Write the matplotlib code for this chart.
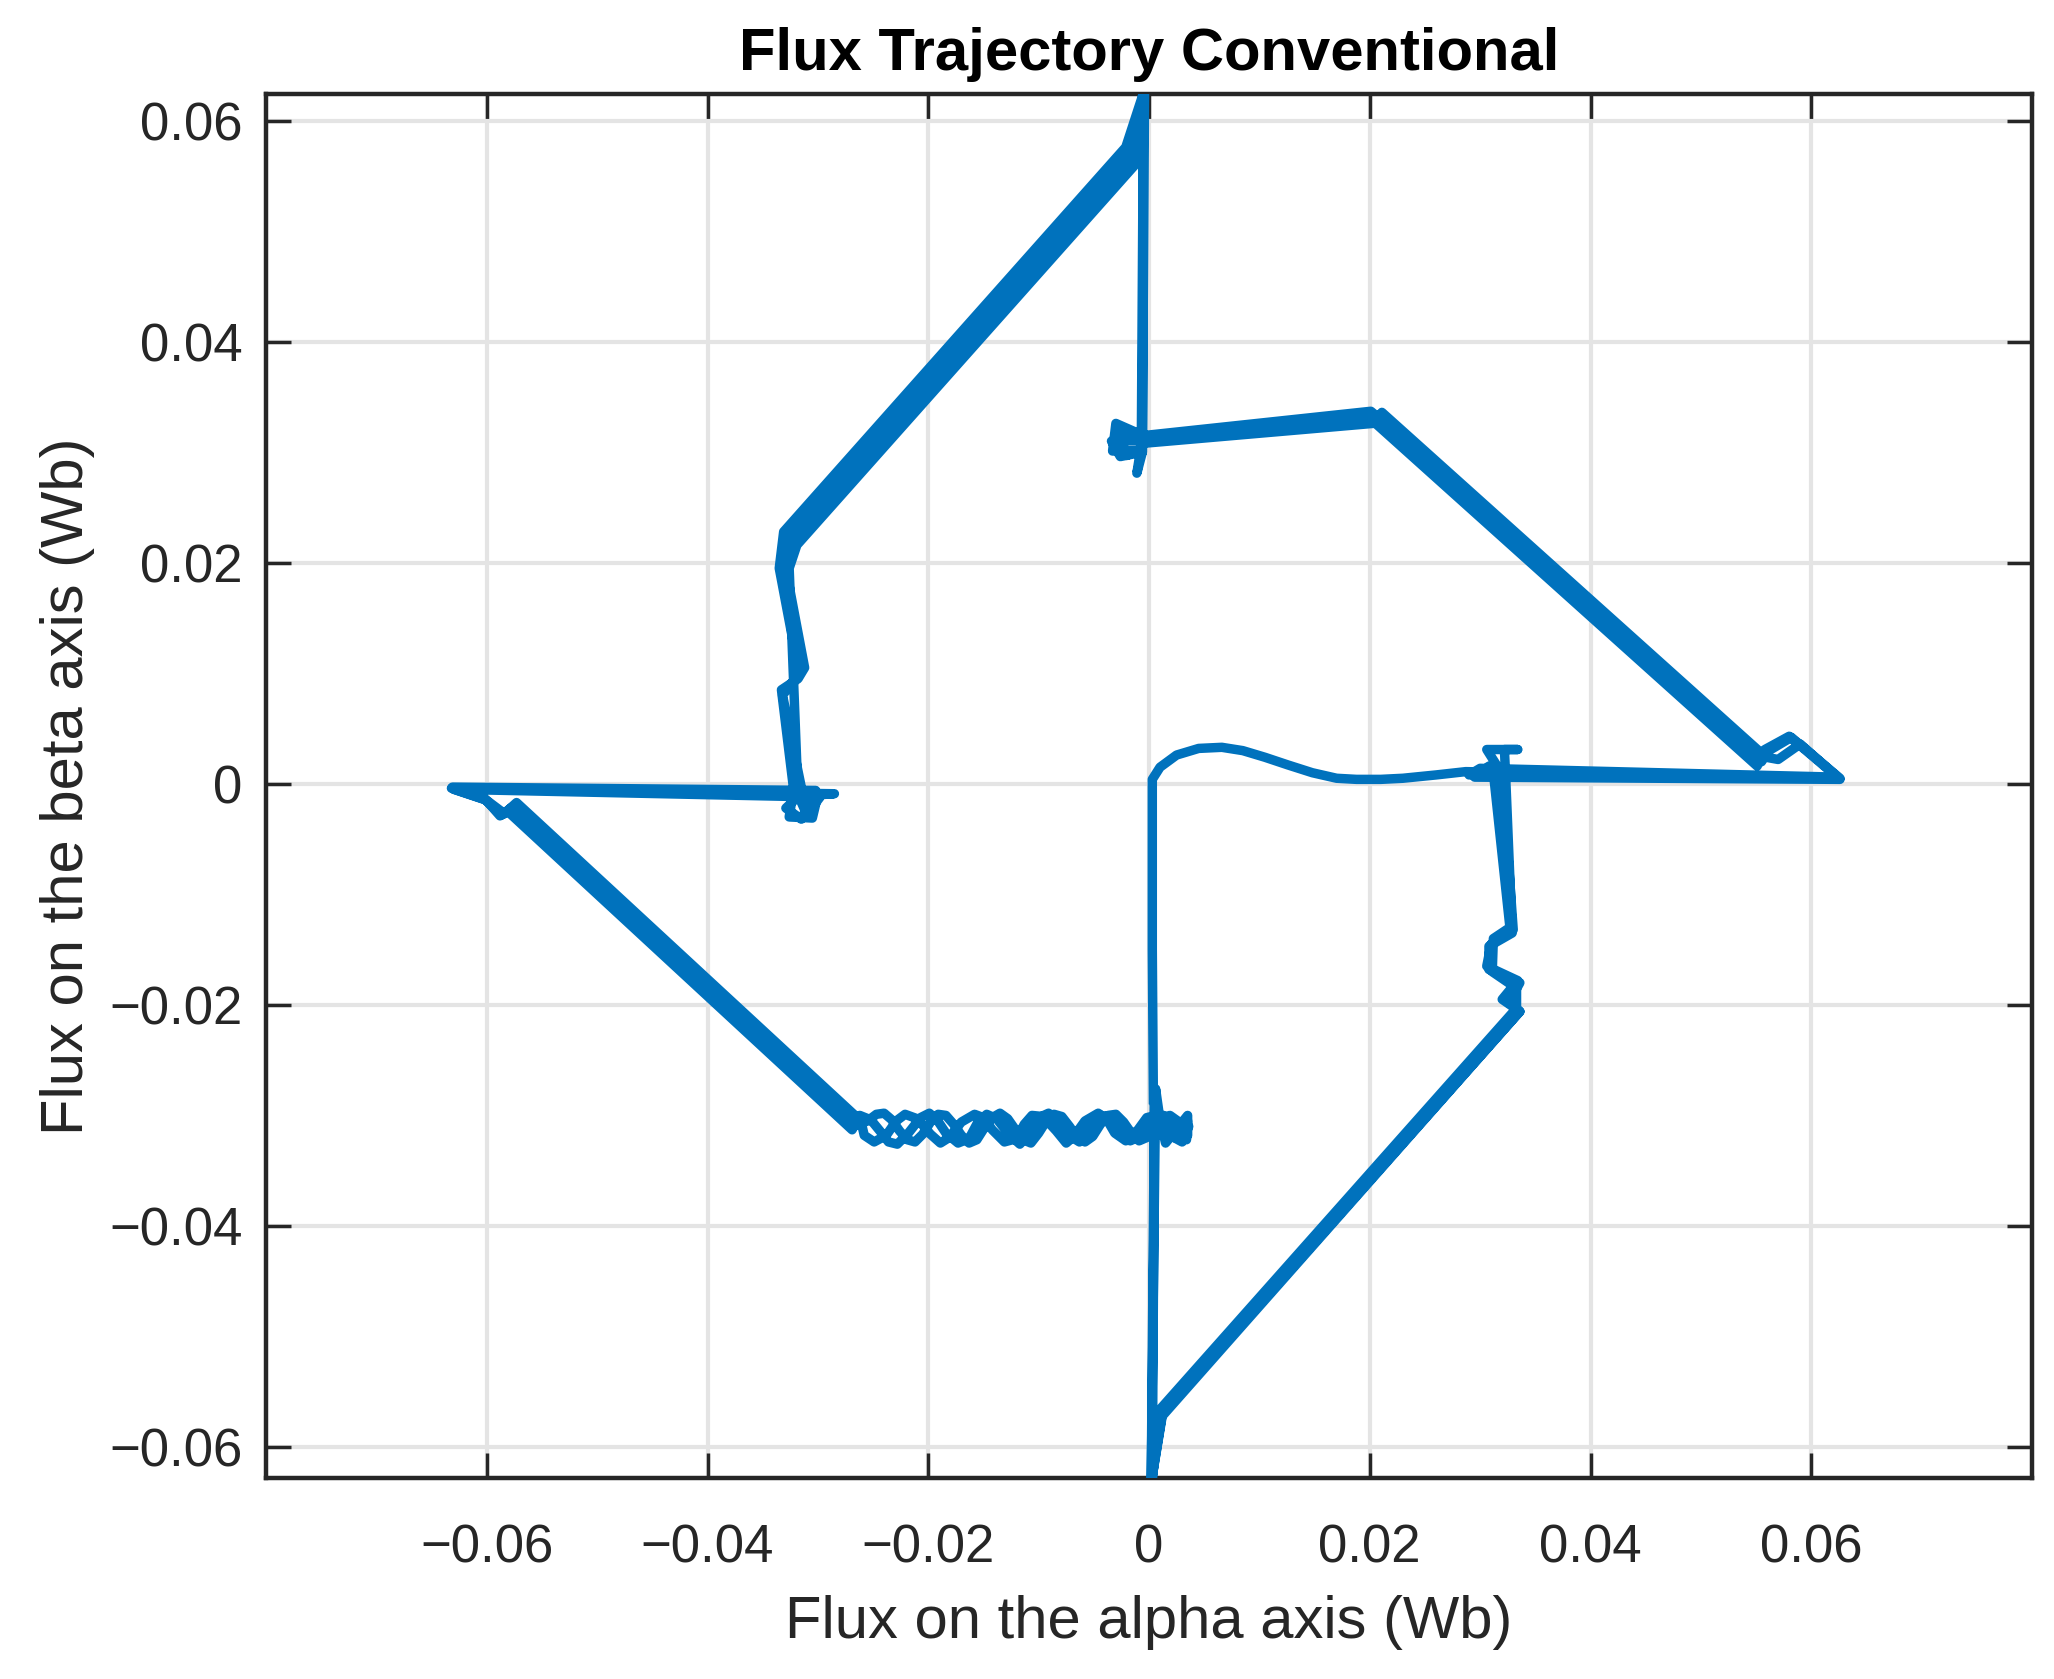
import matplotlib
matplotlib.use('Agg')
import matplotlib.pyplot as plt
import numpy as np

plt.rcParams['font.family'] = ['Liberation Sans', 'DejaVu Sans']

# ---------------- data (Wb) ----------------
# start-up transient: thin vertical + wavy curve from the origin
alpha_start = [0.0004, 0.0003, 0.0003, 0.0010, 0.0025, 0.0045, 0.0066, 0.0085,
               0.0105, 0.0126, 0.0148, 0.0170, 0.0188, 0.0210, 0.0230, 0.0260, 0.0287]
beta_start = [-0.0290, -0.0150, 0.0004, 0.0015, 0.0026, 0.0032, 0.0033, 0.0030,
              0.0024, 0.0017, 0.0010, 0.0005, 0.0004, 0.0004, 0.0005, 0.0008, 0.0011]

# ripple samples along the lower band (three passes)
alpha_ripple1 = [-0.0255, -0.0247, -0.0240, -0.0233, -0.0226, -0.0219, -0.0212, -0.0205,
                 -0.0198, -0.0191, -0.0184, -0.0177, -0.0170, -0.0163, -0.0156, -0.0149,
                 -0.0142, -0.0135, -0.0128, -0.0121, -0.0114, -0.0107, -0.0100, -0.0093,
                 -0.0086, -0.0079, -0.0072, -0.0065, -0.0058, -0.0051, -0.0044, -0.0037,
                 -0.0030, -0.0023, -0.0016, -0.0009, -0.0002, 0.0005, 0.0012, 0.0019,
                 0.0026, 0.0033]
beta_ripple1 = [-0.0305, -0.0299, -0.0298, -0.0304, -0.0314, -0.0322, -0.0324, -0.0317,
                -0.0306, -0.0299, -0.0300, -0.0308, -0.0318, -0.0325, -0.0322, -0.0311,
                -0.0302, -0.0298, -0.0303, -0.0313, -0.0322, -0.0325, -0.0316, -0.0305,
                -0.0299, -0.0301, -0.0310, -0.0320, -0.0324, -0.0319, -0.0308, -0.0300,
                -0.0299, -0.0306, -0.0316, -0.0323, -0.0320, -0.0310, -0.0302, -0.0300,
                -0.0305, -0.0312]
alpha_ripple2 = [-0.0258, -0.0249, -0.0238, -0.0229, -0.0221, -0.0210, -0.0198, -0.0189,
                 -0.0181, -0.0170, -0.0158, -0.0150, -0.0142, -0.0131, -0.0120, -0.0113,
                 -0.0106, -0.0096, -0.0084, -0.0075, -0.0068, -0.0058, -0.0046, -0.0038,
                 -0.0031, -0.0021, -0.0010, -0.0002, 0.0006, 0.0016, 0.0027, 0.0035]
beta_ripple2 = [-0.0318, -0.0324, -0.0318, -0.0305, -0.0299, -0.0303, -0.0317, -0.0325,
                -0.0320, -0.0306, -0.0299, -0.0302, -0.0313, -0.0324, -0.0321, -0.0308,
                -0.0300, -0.0301, -0.0314, -0.0325, -0.0319, -0.0305, -0.0298, -0.0304,
                -0.0316, -0.0323, -0.0313, -0.0302, -0.0300, -0.0310, -0.0320, -0.0310]
alpha_ripple3 = [-0.0262, -0.0252, -0.0243, -0.0236, -0.0228, -0.0218, -0.0207, -0.0199,
                 -0.0192, -0.0184, -0.0173, -0.0163, -0.0155, -0.0147, -0.0138, -0.0127,
                 -0.0117, -0.0110, -0.0102, -0.0091, -0.0080, -0.0071, -0.0063, -0.0054,
                 -0.0043, -0.0033, -0.0026, -0.0017, -0.0006, 0.0004, 0.0013, 0.0024,
                 0.0035]
beta_ripple3 = [-0.0300, -0.0304, -0.0315, -0.0324, -0.0326, -0.0316, -0.0302, -0.0298,
                -0.0304, -0.0316, -0.0325, -0.0321, -0.0306, -0.0299, -0.0303, -0.0317,
                -0.0326, -0.0318, -0.0303, -0.0298, -0.0306, -0.0319, -0.0324, -0.0312,
                -0.0300, -0.0302, -0.0314, -0.0323, -0.0318, -0.0305, -0.0300, -0.0308,
                -0.0318]

# cycle 1: right tip -> upper band -> left band (before ripple), then after ripple
alpha_c1a = [0.0626, 0.0582, 0.0560, 0.0555, 0.0207, 0.0201, -0.0005, -0.0030, -0.0033,
             -0.0010, -0.0008, -0.0011, -0.0006, -0.0004, -0.0015, -0.0325, -0.0330,
             -0.0312, -0.0318, -0.0333, -0.0322, -0.0326, -0.0305, -0.0300, -0.0285,
             -0.0632, -0.0602, -0.0586, -0.0577, -0.0265]
beta_c1a = [0.0005, 0.0042, 0.0029, 0.0020, 0.0332, 0.0337, 0.0315, 0.0326, 0.0301,
            0.0302, 0.0300, 0.0281, 0.0300, 0.0632, 0.0570, 0.0222, 0.0200,
            0.0105, 0.0095, 0.0085, -0.0005, -0.0030, -0.0031, -0.0010, -0.0009,
            -0.0004, -0.0014, -0.0028, -0.0021, -0.0309]
alpha_c1b = [0.0035, 0.0034, 0.0012, 0.0006, 0.0004, 0.0002, 0.0012, 0.0336, 0.0326,
             0.0336, 0.0308, 0.0308, 0.0329, 0.0323, 0.0322, 0.0334, 0.0306, 0.0318,
             0.0290, 0.0300]
beta_c1b = [-0.0305, -0.0322, -0.0318, -0.0276, -0.0450, -0.0632, -0.0570, -0.0206, -0.0198,
            -0.0180, -0.0168, -0.0147, -0.0135, 0.0010, 0.0031, 0.0031, 0.0031, 0.0012,
            0.0008, 0.0014]

alpha_c2a = [0.0624, 0.0590, 0.0570, 0.0559, 0.0211, 0.0203, -0.0005, -0.0028, -0.0020,
             -0.0007, -0.0005, -0.0009, -0.0319, -0.0326,
             -0.0318, -0.0310, -0.0298, -0.0630, -0.0600, -0.0584, -0.0573, -0.0261]
beta_c2a = [0.0006, 0.0036, 0.0022, 0.0024, 0.0336, 0.0326, 0.0308, 0.0318, 0.0297,
            0.0303, 0.0620, 0.0564, 0.0216, 0.0195,
            -0.0010, -0.0028, -0.0012, -0.0005, -0.0015, -0.0027, -0.0017, -0.0305]
alpha_c2b = [0.0036, 0.0030, 0.0008, 0.0005, 0.0003, 0.0009, 0.0333, 0.0333, 0.0311,
             0.0312, 0.0327, 0.0312, 0.0308, 0.0295]
beta_c2b = [-0.0310, -0.0324, -0.0312, -0.0290, -0.0630, -0.0567, -0.0203, -0.0185,
            -0.0170, -0.0140, -0.0130, 0.0010, 0.0016, 0.0006]

alpha_c3a = [0.0626, 0.0580, 0.0558, 0.0551, 0.0203, 0.0198, -0.0005, -0.0034, -0.0026,
             -0.0006, -0.0005, -0.0021, -0.0331, -0.0335, -0.0317, -0.0332,
             -0.0314, -0.0329, -0.0315, -0.0302, -0.0631, -0.0603, -0.0588, -0.0581, -0.0269]
beta_c3a = [0.0004, 0.0043, 0.0031, 0.0016, 0.0328, 0.0333, 0.0311, 0.0310, 0.0296,
            0.0300, 0.0625, 0.0576, 0.0228, 0.0195, 0.0100, 0.0080,
            -0.0008, -0.0022, -0.0032, -0.0006, -0.0003, -0.0012, -0.0029, -0.0025, -0.0313]
alpha_c3b = [0.0035, 0.0015, 0.0005, 0.0002, 0.0012, 0.0336, 0.0320, 0.0334, 0.0306,
             0.0310, 0.0330, 0.0320, 0.0319, 0.0292, 0.0626]
beta_c3b = [-0.0300, -0.0325, -0.0282, -0.0632, -0.0572, -0.0206, -0.0195, -0.0178,
            -0.0165, -0.0145, -0.0132, 0.0008, 0.0012, 0.0010, 0.0005]

tick_values = [-0.06, -0.04, -0.02, 0, 0.02, 0.04, 0.06]
tick_labels = ['\u22120.06', '\u22120.04', '\u22120.02', '0', '0.02', '0.04', '0.06']

title = 'Flux Trajectory Conventional'
xlabel = 'Flux on the alpha axis (Wb)'
ylabel = 'Flux on the beta axis (Wb)'

# ---------------- figure ----------------
fig = plt.figure(figsize=(20.54, 16.79), dpi=100)
ax = fig.add_axes([266 / 2054, 1 - 1478 / 1679, (2032 - 266) / 2054, (1478 - 94) / 1679])

alpha = np.concatenate([alpha_start,
                        alpha_c1a, alpha_ripple1, alpha_c1b,
                        alpha_c2a, alpha_ripple2, alpha_c2b,
                        alpha_c3a, alpha_ripple3, alpha_c3b])
beta = np.concatenate([beta_start,
                       beta_c1a, beta_ripple1, beta_c1b,
                       beta_c2a, beta_ripple2, beta_c2b,
                       beta_c3a, beta_ripple3, beta_c3b])
ax.plot(alpha, beta, color='#0072BD', lw=6.8, solid_joinstyle='round',
        solid_capstyle='butt', zorder=3)

ax.set_xlim(-0.08, 0.08)
ax.set_ylim(-0.0628, 0.0624)
ax.set_xticks(tick_values)
ax.set_xticklabels(tick_labels)
ax.set_yticks(tick_values)
ax.set_yticklabels(tick_labels)

ax.grid(True, color='#e4e4e4', lw=3.0)
ax.set_axisbelow(True)
ax.tick_params(axis='both', direction='in', length=18, width=2.5, top=True, right=True,
               labelsize=38, color='#262626', labelcolor='#262626')
ax.tick_params(axis='x', pad=33)
ax.tick_params(axis='y', pad=17)
for s in ax.spines.values():
    s.set_linewidth(3.2)
    s.set_color('#262626')

ax.set_title(title, fontsize=43, fontweight='bold', pad=17, color='black')
ax.set_xlabel(xlabel, fontsize=43, color='#262626', labelpad=15)
ax.set_ylabel(ylabel, fontsize=43, color='#262626', labelpad=10)

fig.savefig('out.png', dpi=100)
